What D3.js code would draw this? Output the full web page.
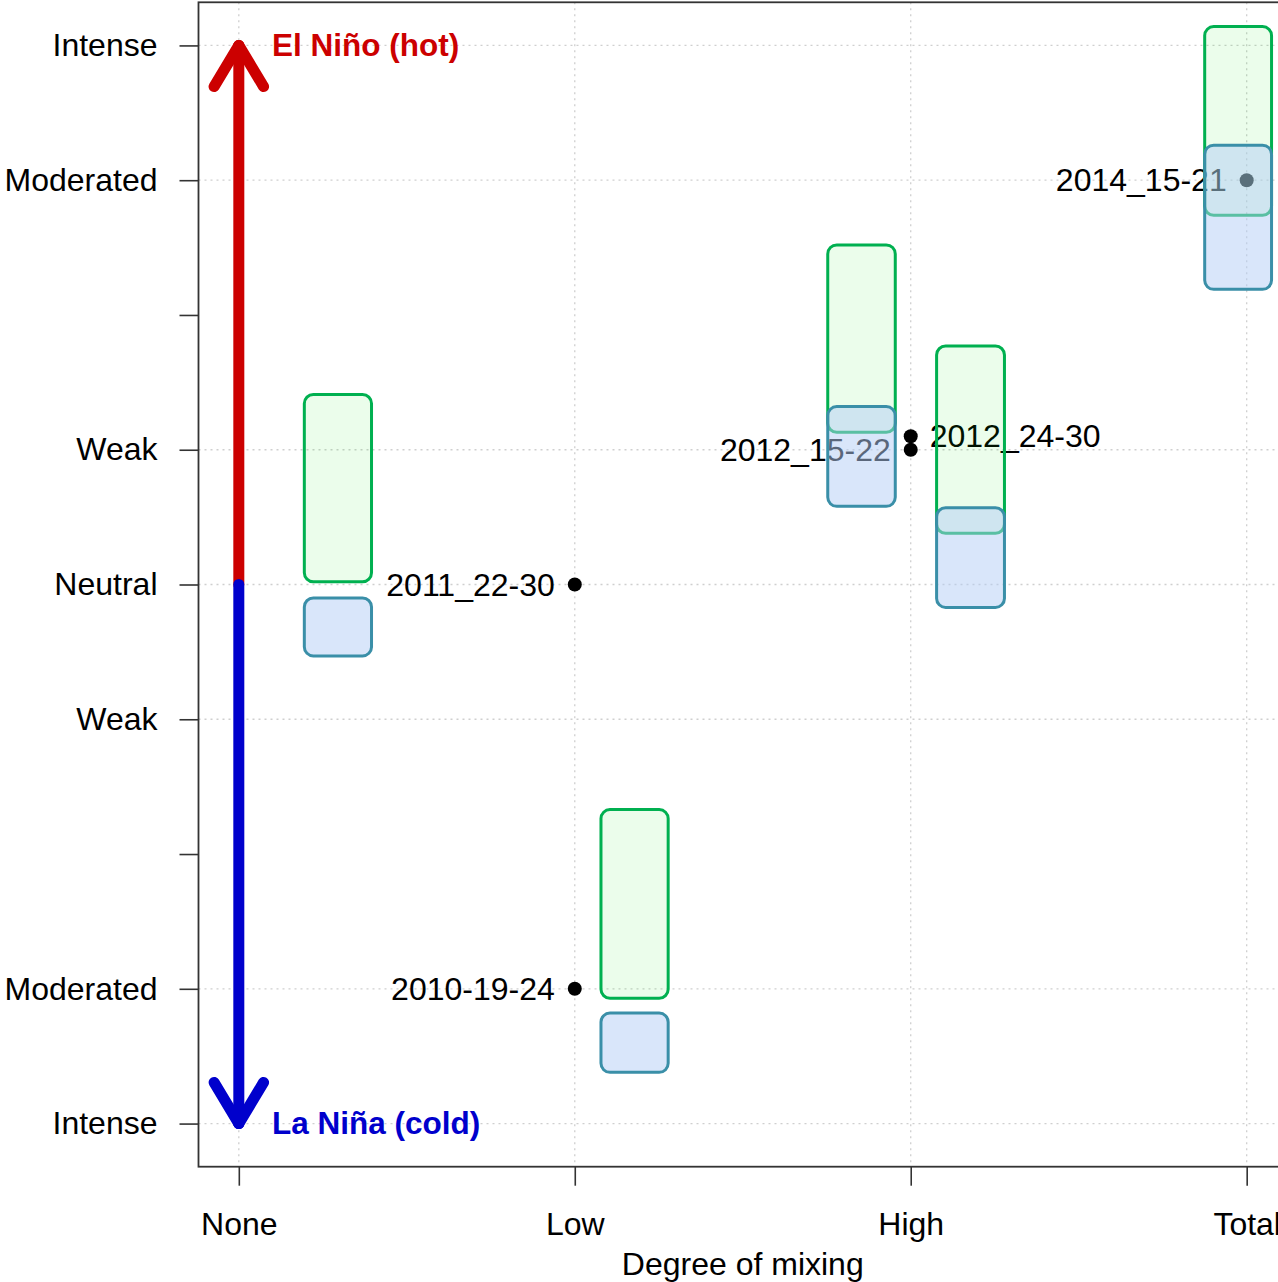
<!DOCTYPE html>
<html>
<head>
<meta charset="utf-8">
<script src="https://cdn.jsdelivr.net/npm/d3@7"></script>
<style>
  html, body { margin: 0; padding: 0; background: #fff; overflow: hidden; }
  svg { display: block; font-family: "Liberation Sans", Arial, sans-serif; }
</style>
</head>
<body>
<svg id="chart" width="1278" height="1282"></svg>
<script>
// Degree of mixing (x) and ENSO phase (y)
const mixLevels   = ["None", "Low", "High", "Total"];
const ensoTicks   = [4, 3, 2, 1, 0, -1, -2, -3, -4];
const ensoLabels  = ["Intense", "Moderated", "", "Weak", "Neutral", "Weak", "", "Moderated", "Intense"];

// Sampling events
const events      = ["2010-19-24", "2011_22-30", "2012_15-22", "2012_24-30", "2014_15-21"];
const eventMixing = [1, 1, 2, 2, 3];
const eventEnso   = [-3, 0, 1, 1.1, 3];
const labelSide   = ["left", "left", "left", "right", "left"];

// Companion boxes for each event: horizontal extent and vertical ranges
const boxX0       = [1.078, 0.195, 1.753, 2.077, 2.875];
const boxX1       = [1.278, 0.395, 1.954, 2.279, 3.074];
const greenLo     = [-3.07, 0.02, 1.13, 0.38, 2.74];
const greenHi     = [-1.67, 1.41, 2.52, 1.77, 4.14];
const blueLo      = [-3.62, -0.53, 0.58, -0.17, 2.19];
const blueHi      = [-3.18, -0.10, 1.32, 0.57, 3.26];

const svg = d3.select("#chart");

const plot = { left: 198.5, right: 1287, top: 2.3, bottom: 1166.7 };
const FS = 32;

const x = d3.scaleLinear().domain([-0.12, 3.12]).range([plot.left, plot.right]);
const y = d3.scaleLinear().domain([-4.32, 4.32]).range([plot.bottom, plot.top]);

// Grid lines (dotted) at labelled positions
const grid = svg.append("g").attr("stroke", "#cfcfcf").attr("stroke-width", 1.3)
  .attr("stroke-dasharray", "2,4");
ensoTicks.forEach((t, i) => {
  if (!ensoLabels[i]) return;
  grid.append("line").attr("x1", plot.left).attr("x2", plot.right)
    .attr("y1", y(t)).attr("y2", y(t));
});
mixLevels.forEach((m, i) => {
  grid.append("line").attr("x1", x(i)).attr("x2", x(i))
    .attr("y1", plot.top).attr("y2", plot.bottom);
});

// Axes
const xAxis = d3.axisBottom(x).tickValues([0, 1, 2, 3])
  .tickFormat(i => mixLevels[i]).tickSize(19).tickSizeOuter(0).tickPadding(27);
const yAxis = d3.axisLeft(y).tickValues(ensoTicks)
  .tickFormat((d, i) => ensoLabels[i]).tickSize(19).tickSizeOuter(0).tickPadding(22);

const gx = svg.append("g").attr("transform", `translate(0,${plot.bottom})`).call(xAxis);
const gy = svg.append("g").attr("transform", `translate(${plot.left},0)`).call(yAxis);
[gx, gy].forEach(g => {
  g.select(".domain").remove();
  g.selectAll(".tick line").attr("stroke", "#333").attr("stroke-width", 1.6);
  g.selectAll(".tick text").attr("font-size", FS).attr("fill", "#000")
    .attr("font-family", "Liberation Sans, Arial, sans-serif");
});

// Axis title
svg.append("text").attr("x", (plot.left + plot.right) / 2).attr("y", 1275)
  .attr("text-anchor", "middle").attr("font-size", FS).text("Degree of mixing");

// ENSO arrows
function arrow(fromV, toV, color) {
  const xa = x(0), y0 = y(fromV), y1 = y(toV);
  const g = svg.append("g").attr("stroke", color).attr("stroke-width", 11)
    .attr("stroke-linecap", "round").attr("fill", "none");
  g.append("line").attr("x1", xa).attr("x2", xa).attr("y1", y0).attr("y2", y1);
  const dir = Math.sign(y1 - y0);
  const len = 48, ang = Math.PI / 5.8;
  [-1, 1].forEach(s => {
    g.append("line").attr("x1", xa).attr("y1", y1)
      .attr("x2", xa + s * len * Math.sin(ang))
      .attr("y2", y1 - dir * len * Math.cos(ang));
  });
}
arrow(0, 4, "#cc0000");
arrow(0, -4, "#0000cc");

svg.append("text").attr("x", 272).attr("y", y(4) + 11).attr("font-size", 31.5)
  .attr("font-weight", "bold").attr("fill", "#cc0000").text("El Niño (hot)");
svg.append("text").attr("x", 272).attr("y", y(-4) + 10).attr("font-size", 31.5)
  .attr("font-weight", "bold").attr("fill", "#0000cc").text("La Niña (cold)");

// Event points and labels
const pts = events.map((e, i) => ({
  name: e, mx: eventMixing[i], ev: eventEnso[i], side: labelSide[i],
  x0: boxX0[i], x1: boxX1[i], gLo: greenLo[i], gHi: greenHi[i], bLo: blueLo[i], bHi: blueHi[i]
}));

svg.append("g").selectAll("circle").data(pts).join("circle")
  .attr("cx", d => x(d.mx)).attr("cy", d => y(d.ev)).attr("r", 7).attr("fill", "#000");

svg.append("g").selectAll("text").data(pts).join("text")
  .attr("x", d => x(d.mx) + (d.side === "left" ? -20 : 19))
  .attr("y", d => y(d.ev) + 11)
  .attr("text-anchor", d => d.side === "left" ? "end" : "start")
  .attr("font-size", FS).attr("fill", "#000").text(d => d.name);

// Boxes: green first, translucent blue on top
svg.append("g").selectAll("rect").data(pts).join("rect")
  .attr("x", d => x(d.x0)).attr("width", d => x(d.x1) - x(d.x0))
  .attr("y", d => y(d.gHi)).attr("height", d => y(d.gLo) - y(d.gHi))
  .attr("rx", 9).attr("ry", 9)
  .attr("fill", "rgba(0,230,0,0.08)").attr("stroke", "#00b050").attr("stroke-width", 3);

svg.append("g").selectAll("rect").data(pts).join("rect")
  .attr("x", d => x(d.x0)).attr("width", d => x(d.x1) - x(d.x0))
  .attr("y", d => y(d.bHi)).attr("height", d => y(d.bLo) - y(d.bHi))
  .attr("rx", 9).attr("ry", 9)
  .attr("fill", "rgba(180,205,245,0.5)").attr("stroke", "#3a8fa8").attr("stroke-width", 3);

// Plot frame
svg.append("rect").attr("x", plot.left).attr("y", plot.top)
  .attr("width", plot.right - plot.left).attr("height", plot.bottom - plot.top)
  .attr("fill", "none").attr("stroke", "#333").attr("stroke-width", 1.8);
</script>
</body>
</html>
